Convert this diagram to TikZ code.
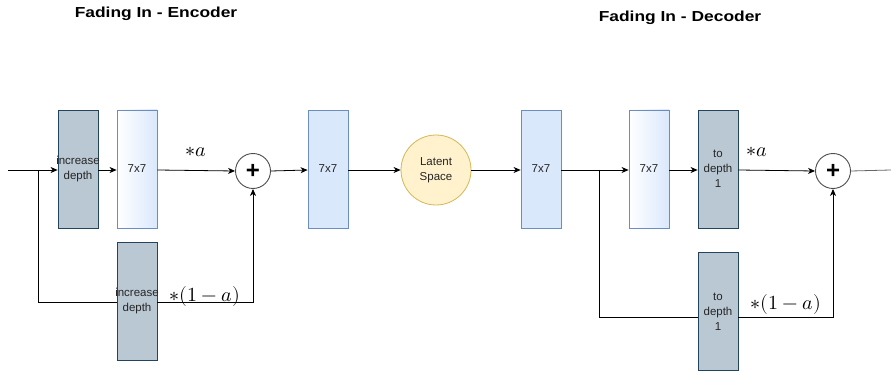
\documentclass[tikz,border=0pt]{standalone}
\usepackage{fontspec}
\setmainfont{Liberation Sans}
\usepackage{unicode-math}
\setmathfont{Latin Modern Math}
\usetikzlibrary{arrows.meta}
\definecolor{grayfill}{HTML}{BAC8D3}
\definecolor{graystroke}{HTML}{23445D}
\definecolor{bluefill}{HTML}{DAE8FC}
\definecolor{bluestroke}{HTML}{6C8EBF}
\definecolor{yellowfill}{HTML}{FFF2CC}
\definecolor{yellowstroke}{HTML}{D6B656}
\tikzset{
  blk/.style={rectangle, minimum width=40pt, minimum height=118pt, inner ysep=0pt,
    inner xsep=-10pt, align=center, font=\fontsize{11.5}{15}\selectfont, text=black!85},
  graybox/.style={blk, fill=grayfill, draw=graystroke, line width=0.8pt},
  bluebox/.style={blk, fill=bluefill, draw=bluestroke, line width=0.8pt},
  fadebox/.style={blk, left color=white, right color=bluefill, draw=bluestroke, line width=0.8pt},
  sumnode/.style={circle, draw=black!70, fill=white, line width=0.9pt, minimum size=35pt, inner sep=0pt},
  latent/.style={circle, fill=yellowfill, draw=yellowstroke, line width=0.8pt, minimum size=70pt,
    inner sep=0pt, align=center, font=\fontsize{11.5}{15}\selectfont, text=black!85},
  title/.style={font=\fontsize{14.5}{16}\selectfont\bfseries},
  wire/.style={draw=black, line width=0.8pt},
  arr/.style={wire, -{Stealth[length=7pt,width=6pt,inset=2pt]}},
  wlabel/.style={font=\fontsize{20}{22}\selectfont, inner sep=0pt}
}
\newcommand{\plussign}{\fontsize{24}{24}\selectfont\bfseries +}
\newcommand{\widetitle}[1]{\scalebox{1.2}[1]{#1}}
\begin{document}
\begin{tikzpicture}[x=1pt, y=-1pt]
  \useasboundingbox (0,0) rectangle (891,374);

  % titles
  \node[title] (tenc) at (156,14) {\widetitle{Fading In - Encoder}};
  \node[title] (tdec) at (680,18) {\widetitle{Fading In - Decoder}};

  % encoder
  \coordinate (ein) at (8,170);
  \coordinate (esplit) at (38,170);
  \node[graybox] (inc1) at (78,169) {increase\\depth};
  \node[fadebox] (e7a) at (137,169) {7x7};
  \node[graybox] (inc2) at (137,301.5) {increase\\depth};
  \node[sumnode] (esum) at (253,171) {\plussign};
  \node[bluebox] (e7b) at (328,169) {7x7};

  % latent
  \node[latent] (lat) at (436,170) {Latent\\Space};

  % decoder
  \node[bluebox] (d7a) at (541,169) {7x7};
  \coordinate (dsplit) at (599,170);
  \node[fadebox] (d7b) at (649,169) {7x7};
  \node[graybox] (td1) at (718,169) {to\\depth\\1};
  \node[graybox] (td2) at (718,311.5) {to\\depth\\1};
  \node[sumnode] (dsum) at (833,171) {\plussign};
  \coordinate (dout) at (891,170);

  % weight labels
  \node[wlabel] (la1) at (196,152) {$*a$};
  \node[wlabel] (la2) at (205,296) {$*(1-a)$};
  \node[wlabel] (lb1) at (757,152) {$*a$};
  \node[wlabel] (lb2) at (786,304) {$*(1-a)$};

  % encoder wiring
  \draw[arr] (ein) -- (inc1.west |- ein);
  \draw[arr] (inc1.east |- ein) -- (e7a.west |- ein);
  \draw[arr] (e7a.east |- ein) -- (esum.west);
  \draw[wire] (esplit) |- (inc2.west |- 0,302);
  \draw[arr] (inc2.east |- 0,302) -| (esum.south);
  \draw[arr] (esum.east) -- (e7b.west |- ein);
  \draw[arr] (e7b.east |- ein) -- (lat.west);

  % decoder wiring
  \draw[arr] (lat.east) -- (d7a.west |- ein);
  \draw[arr] (d7a.east |- ein) -- (d7b.west |- ein);
  \draw[wire] (dsplit) |- (td2.west |- 0,317);
  \draw[arr] (d7b.east |- ein) -- (td1.west |- ein);
  \draw[arr] (td1.east |- ein) -- (dsum.west);
  \draw[arr] (td2.east |- 0,317) -| (dsum.south);
  \draw[wire, draw=black!60] (dsum.east) -- (dout);
\end{tikzpicture}
\end{document}
